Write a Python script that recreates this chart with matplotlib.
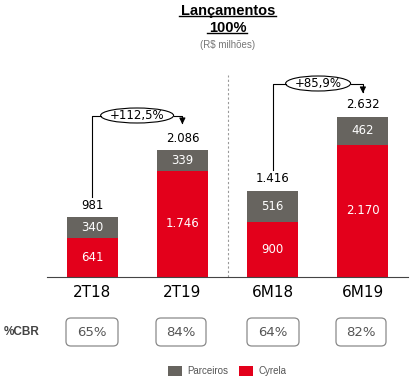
import numpy as np
import matplotlib.pyplot as plt
from matplotlib.patches import Ellipse, FancyBboxPatch, Rectangle

categories = ["2T18", "2T19", "6M18", "6M19"]
cyrela = [641, 1746, 900, 2170]
parceiros = [340, 339, 516, 462]
totals = ["981", "2.086", "1.416", "2.632"]
cyrela_lbl = ["641", "1.746", "900", "2.170"]
parc_lbl = ["340", "339", "516", "462"]
cbr = ["65%", "84%", "64%", "82%"]

RED = "#E3001B"
GRAY = "#67645F"
W, H = 411, 379
PXY = 0.0607  # pixels per unit on y


def fx(x):
    return x / W


def fy(y):
    return 1 - y / H


def vy(ypx):
    # pixel row -> data value
    return (276.7 - ypx) / PXY


fig = plt.figure(figsize=(W / 100, H / 100), dpi=100)
ax = fig.add_axes([fx(47), 102.3 / H, 361 / W, 276.7 / H])
ax.set_xlim(-0.5, 3.5)
ax.set_ylim(0, 276.7 / PXY)
for s in ["top", "right", "left"]:
    ax.spines[s].set_visible(False)
ax.spines["bottom"].set_color("#444444")
ax.spines["bottom"].set_linewidth(0.8)
ax.set_xticks([])
ax.set_yticks([])
ax.patch.set_alpha(0)

x = np.arange(len(categories))
bw = 0.565
ax.bar(x, cyrela, bw, color=RED, label="Cyrela")
ax.bar(x, parceiros, bw, bottom=cyrela, color=GRAY, label="Parceiros")

for i in range(len(categories)):
    ax.text(x[i], cyrela[i] / 2, cyrela_lbl[i], ha="center", va="center",
            color="white", fontsize=8.5)
    ax.text(x[i], cyrela[i] + parceiros[i] / 2, parc_lbl[i], ha="center",
            va="center", color="white", fontsize=8.5)
    ax.text(x[i], cyrela[i] + parceiros[i] + 90, totals[i], ha="center",
            va="bottom", color="black", fontsize=8.5)
    ax.text(x[i], -255, categories[i], ha="center", va="center",
            color="black", fontsize=11, clip_on=False)

# separator
ax.plot([1.5, 1.5], [0, vy(75)], color="#999999", lw=0.8, ls=(0, (2, 2)))


def bracket(x0, x1, ybot, ytop, ytip, cx, ew, label):
    eh = 15 / PXY
    ax.plot([x0, x0, cx - ew / 2], [ybot, ytop, ytop], color="black", lw=0.8)
    ax.plot([cx + ew / 2, x1, x1], [ytop, ytop, ytip + 60], color="black", lw=0.8)
    ax.annotate("", xy=(x1, ytip), xytext=(x1, ytip + 140),
                arrowprops=dict(arrowstyle="-|>", color="black", lw=0.8,
                                mutation_scale=9))
    ax.add_patch(Ellipse((cx, ytop), ew, eh, facecolor="white",
                         edgecolor="black", lw=0.8))
    ax.text(cx, ytop, label, ha="center", va="center", fontsize=8.5)


bracket(0, 1, vy(197), vy(115.5), vy(127), (137 - 92) / 90.3, 73 / 90.3,
        "+112,5%")
bracket(2, 3, vy(170), vy(83.5), vy(96), 2 + (317.5 - 272) / 90.3,
        65 / 90.3, "+85,9%")

# title
fig.text(fx(228), fy(11), "Lançamentos", ha="center", va="center",
         fontsize=10.5, fontweight="bold", family="Liberation Sans")
fig.text(fx(228), fy(28), "100%", ha="center", va="center",
         fontsize=10.5, fontweight="bold", family="Liberation Sans")
fig.add_artist(plt.Line2D([fx(179), fx(276)], [fy(15.5), fy(15.5)],
                          color="black", lw=1))
fig.add_artist(plt.Line2D([fx(207), fx(247)], [fy(33), fy(33)],
                          color="black", lw=1))
fig.text(fx(228), fy(45), "(R$ milhões)", ha="center", va="center",
         fontsize=7, color="#777777", family="Liberation Sans")

# %CBR row
fig.text(fx(4), fy(332), "%CBR", ha="left", va="center", fontsize=8.5,
         fontweight="bold", color="#444444", family="Liberation Sans")
box_x = [92, 181, 273, 361]
box_w = [52, 50, 52, 50]
for i in range(len(cbr)):
    bx = box_x[i] - box_w[i] / 2
    fig.add_artist(FancyBboxPatch((fx(bx), fy(346)), box_w[i] / W, 28 / H,
                                  boxstyle="round,pad=0,rounding_size=0.012",
                                  transform=fig.transFigure,
                                  facecolor="white", edgecolor="#8a8a8a",
                                  lw=0.9))
    fig.text(fx(box_x[i]), fy(332), cbr[i], ha="center", va="center",
             fontsize=9.5, color="#555555")

# legend
fig.add_artist(Rectangle((fx(168), fy(376)), 14 / W, 10 / H,
                         transform=fig.transFigure, facecolor=GRAY))
fig.text(fx(187), fy(371), "Parceiros", ha="left", va="center", fontsize=7,
         color="#555555", family="Liberation Sans")
fig.add_artist(Rectangle((fx(239), fy(376)), 14 / W, 10 / H,
                         transform=fig.transFigure, facecolor=RED))
fig.text(fx(258), fy(371), "Cyrela", ha="left", va="center", fontsize=7,
         color="#555555", family="Liberation Sans")

plt.savefig("out.png", dpi=100)
